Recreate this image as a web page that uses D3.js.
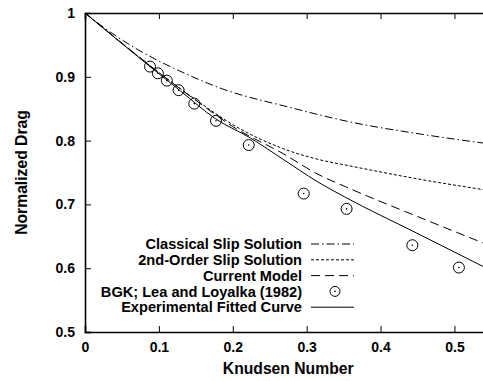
<!DOCTYPE html>
<html>
<head>
<meta charset="utf-8">
<script src="https://cdn.jsdelivr.net/npm/d3@7.9.0/dist/d3.min.js"></script>
<style>
  body { margin: 0; background: #fff; }
  svg text { font-family: "Liberation Sans", Arial, sans-serif; font-weight: bold; fill: #000; }
</style>
</head>
<body>
<svg id="chart" width="483" height="381"></svg>
<script>
// values
const xTicks = [0, 0.1, 0.2, 0.3, 0.4, 0.5];
const yTicks = [0.5, 0.6, 0.7, 0.8, 0.9, 1];

const classicalKn = [0, 0.027, 0.068, 0.136, 0.186, 0.274, 0.36, 0.461, 0.54];
const classicalDrag = [1, 0.976, 0.945, 0.905, 0.881, 0.853, 0.829, 0.809, 0.796];

const secondKn = [0, 0.15, 0.2, 0.269, 0.314, 0.36, 0.45, 0.54];
const secondDrag = [1, 0.864, 0.825, 0.787, 0.771, 0.760, 0.740, 0.723];

const currentKn = [0, 0.15, 0.2, 0.269, 0.314, 0.36, 0.45, 0.54];
const currentDrag = [1, 0.863, 0.822, 0.779, 0.748, 0.724, 0.681, 0.639];

const bgkKn = [0.088, 0.0986, 0.1108, 0.1267, 0.1479, 0.1773, 0.2216, 0.296, 0.354, 0.443, 0.506];
const bgkDrag = [0.916, 0.9055, 0.894, 0.879, 0.858, 0.831, 0.793, 0.717, 0.693, 0.636, 0.601];

const fitKn = [0, 0.088, 0.129, 0.177, 0.224, 0.269, 0.314, 0.351, 0.449, 0.54];
const fitDrag = [1, 0.916, 0.878, 0.834, 0.804, 0.770, 0.736, 0.712, 0.655, 0.602];

const legendLabels = [
  'Classical Slip Solution',
  '2nd-Order Slip Solution',
  'Current Model',
  'BGK; Lea and Loyalka (1982)',
  'Experimental Fitted Curve'
];

const svg = d3.select('#chart');
const margin = { top: 13, right: -1, bottom: 49, left: 85 };
const W = 483, H = 381;
const innerW = W - margin.left - margin.right;
const innerH = H - margin.top - margin.bottom;

const x = d3.scaleLinear().domain([0, 0.54]).range([0, innerW]);
const y = d3.scaleLinear().domain([0.5, 1]).range([innerH, 0]);

const g = svg.append('g').attr('transform', `translate(${margin.left},${margin.top})`);

g.append('clipPath').attr('id', 'clip')
  .append('rect').attr('width', innerW).attr('height', innerH);

const zip = (xs, ys) => xs.map((v, i) => [v, ys[i]]);
const line = d3.line().x(d => x(d[0])).y(d => y(d[1])).curve(d3.curveMonotoneX);

const series = [
  { data: zip(classicalKn, classicalDrag), dash: '8,3,1.5,3' },
  { data: zip(secondKn, secondDrag), dash: '3,2' },
  { data: zip(currentKn, currentDrag), dash: '9,5' },
  { data: zip(fitKn, fitDrag), dash: null }
];

const plot = g.append('g').attr('clip-path', 'url(#clip)');
series.forEach(s => {
  plot.append('path')
    .attr('d', line(s.data))
    .attr('fill', 'none')
    .attr('stroke', '#000')
    .attr('stroke-width', 1)
    .attr('stroke-dasharray', s.dash);
});

// BGK points: open circle with a dot
const pts = plot.selectAll('g.pt')
  .data(zip(bgkKn, bgkDrag))
  .join('g')
  .attr('class', 'pt')
  .attr('transform', d => `translate(${x(d[0])},${y(d[1])})`);
pts.append('circle').attr('r', 5.5).attr('fill', 'none').attr('stroke', '#000').attr('stroke-width', 1);
pts.append('circle').attr('r', 0.8).attr('fill', '#000');

// axes with inward ticks
const xAxis = g.append('g')
  .attr('transform', `translate(0,${innerH})`)
  .call(d3.axisBottom(x).tickValues(xTicks).tickSize(-6).tickPadding(10).tickFormat(d3.format('')));
const xTop = g.append('g')
  .call(d3.axisTop(x).tickValues(xTicks).tickSize(-6).tickFormat(''));
const yAxis = g.append('g')
  .call(d3.axisLeft(y).tickValues(yTicks).tickSize(-6).tickPadding(10).tickFormat(d3.format('')));

[xAxis, xTop, yAxis].forEach(a => {
  a.select('.domain').attr('stroke', '#000').attr('stroke-width', 1.6);
  a.selectAll('.tick line').attr('stroke', '#000').attr('stroke-width', 1);
  a.selectAll('text').style('font-size', '14px').attr('fill', '#000');
});
xTop.selectAll('.tick').filter(d => d === 0).remove();
xAxis.selectAll('.tick').filter(d => d === 0).select('line').remove();

// axis labels
svg.append('text')
  .attr('text-anchor', 'middle')
  .attr('x', margin.left + x(0.275))
  .attr('y', 374)
  .style('font-size', '15.7px')
  .text('Knudsen Number');

svg.append('text')
  .attr('text-anchor', 'middle')
  .attr('transform', `translate(27,${margin.top + innerH / 2}) rotate(-90)`)
  .style('font-size', '15.7px')
  .text('Normalized Drag');

// legend
const legend = svg.append('g').attr('transform', 'translate(302,244)');
const rowH = 15.8;
legendLabels.forEach((label, i) => {
  const row = legend.append('g').attr('transform', `translate(0,${i * rowH})`);
  row.append('text')
    .attr('text-anchor', 'end')
    .attr('dy', '0.35em')
    .style('font-size', '14.6px')
    .text(label);
  if (i === 3) {
    row.append('circle').attr('cx', 33).attr('r', 5).attr('fill', 'none').attr('stroke', '#000');
    row.append('circle').attr('cx', 33).attr('r', 0.8).attr('fill', '#000');
  } else {
    const s = series[i < 3 ? i : 3];
    row.append('line')
      .attr('x1', 9).attr('x2', 52)
      .attr('stroke', '#000').attr('stroke-width', 1)
      .attr('stroke-dasharray', s.dash);
  }
});
</script>
</body>
</html>
